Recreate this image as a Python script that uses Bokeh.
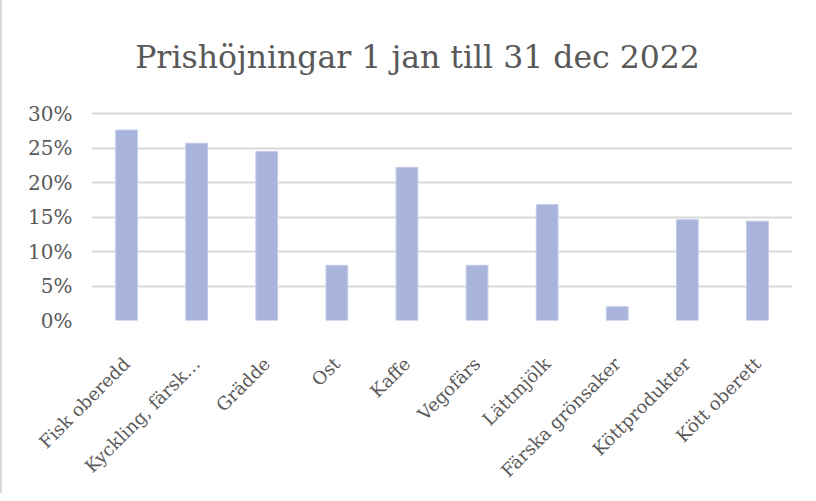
from bokeh.plotting import figure
from bokeh.models import FactorRange, NumeralTickFormatter, FixedTicker, Range1d, ColumnDataSource, Label
from bokeh.embed import file_html
from bokeh.resources import INLINE
import math

categories = ["Fisk oberedd", "Kyckling, färsk…", "Grädde", "Ost", "Kaffe",
              "Vegofärs", "Lättmjölk", "Färska grönsaker", "Köttprodukter", "Kött oberett"]
values = [0.276, 0.257, 0.245, 0.080, 0.222, 0.080, 0.168, 0.020, 0.146, 0.144]
y_ticks = [0.0, 0.05, 0.10, 0.15, 0.20, 0.25, 0.30]
title_text = "Prishöjningar 1 jan till 31 dec 2022"

FONT = "DejaVu Serif"
TXT = "#595959"

# plot area extends above the 30% gridline to hold the title (290 px frame, 207 px for 0-30%)
y_top = max(y_ticks) * 290 / 207

src = ColumnDataSource(dict(cat=categories, val=values))

p = figure(width=800, height=493, output_backend="svg", toolbar_location=None,
           x_range=FactorRange(*categories, range_padding=0), y_range=Range1d(0, y_top),
           min_border_left=89, min_border_right=10, min_border_top=30, min_border_bottom=173)

p.vbar(x="cat", top="val", width=0.31, source=src,
       fill_color="#A8B4DB", line_color="#C3CBE8", line_width=1)

p.add_layout(Label(x=326, y=264, x_units="screen", y_units="screen", text=title_text,
                   text_font=FONT, text_font_size="31.5px", text_color=TXT,
                   text_align="center", text_baseline="alphabetic"))

p.outline_line_color = None
p.background_fill_color = "white"
p.border_fill_color = "white"

p.xgrid.grid_line_color = None
p.ygrid.grid_line_color = "#D9D9D9"
p.ygrid.grid_line_width = 2

p.yaxis.ticker = FixedTicker(ticks=y_ticks)
p.yaxis.formatter = NumeralTickFormatter(format="0%")
for ax in (p.xaxis[0], p.yaxis[0]):
    ax.axis_line_color = None
    ax.major_tick_line_color = None
    ax.minor_tick_line_color = None
    ax.major_label_text_font = FONT
    ax.major_label_text_color = TXT

p.yaxis.major_label_text_font_size = "20px"
p.xaxis.major_label_text_font_size = "18px"
p.yaxis.major_label_standoff = 13
p.xaxis.major_label_orientation = math.pi / 4
p.xaxis.major_label_standoff = 34

p.styles = {"border-left": "2px solid #D9D9D9"}

open("out.html", "w").write(file_html(p, INLINE))
